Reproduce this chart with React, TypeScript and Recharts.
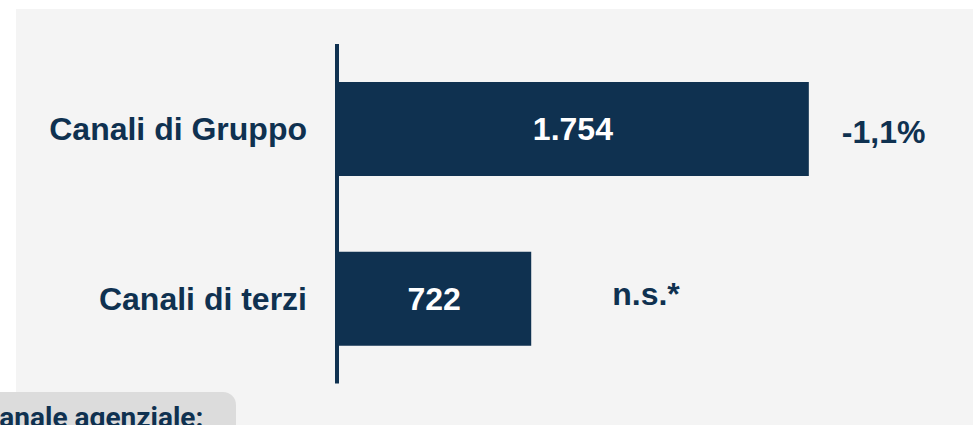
import React from "react";
import { Bar, BarChart, LabelList, XAxis, YAxis } from "recharts";

// Horizontal bars for the two distribution channels, with the year-on-year
// change written to the right of each bar.

const CATEGORIES = ["Canali di Gruppo", "Canali di terzi"];
const VALUES = [1754, 722];
const DELTAS = ["-1,1%", "n.s.*"];

const NAVY = "#0f3150";
const FONT = "'Liberation Sans', Arial, sans-serif";

// The change labels sit at slightly different places next to each bar.
const DELTA_DX = [33, 81];
const DELTA_DY = [3, -5.5];

const data = CATEGORIES.map((name, i) => ({
  name,
  value: VALUES[i],
  delta: DELTAS[i],
}));

const formatIt = (v: number) =>
  String(v).replace(/\B(?=(\d{3})+(?!\d))/g, ".");

function DeltaLabel(props: any) {
  const { x, y, width, height, value, index } = props;
  return (
    <text
      x={Number(x) + Number(width) + DELTA_DX[index]}
      y={Number(y) + Number(height) / 2 + DELTA_DY[index]}
      dy="0.355em"
      textAnchor="start"
      fill={NAVY}
      fontFamily={FONT}
      fontWeight="bold"
      fontSize={32}
    >
      {value}
    </text>
  );
}

export default function App() {
  return (
    <div
      style={{
        position: "absolute",
        left: 0,
        top: 0,
        width: 973,
        height: 425,
        overflow: "hidden",
        background: "#ffffff",
      }}
    >
      <div
        style={{
          position: "absolute",
          left: 16,
          top: 9,
          right: 0,
          bottom: 0,
          background: "#f4f4f4",
        }}
      />
      <div style={{ position: "absolute", left: 0, top: 0 }}>
        <BarChart
          width={973}
          height={425}
          layout="vertical"
          data={data}
          margin={{ top: 44, right: 98, bottom: 41.5, left: 0 }}
        >
          <XAxis type="number" domain={[0, 2000]} hide />
          <YAxis
            type="category"
            dataKey="name"
            width={337}
            axisLine={{ stroke: NAVY, strokeWidth: 4 }}
            tickLine={false}
            tickSize={0}
            tickMargin={30}
            tick={{
              fill: NAVY,
              fontSize: 32,
              fontWeight: "bold",
              fontFamily: FONT,
            }}
            interval={0}
          />
          <Bar dataKey="value" fill={NAVY} barSize={94} isAnimationActive={false}>
            <LabelList
              dataKey="value"
              position="center"
              formatter={(v: any) => formatIt(Number(v))}
              style={{
                fill: "#ffffff",
                fontSize: 32,
                fontWeight: "bold",
                fontFamily: FONT,
              }}
            />
            <LabelList dataKey="delta" content={<DeltaLabel />} />
          </Bar>
        </BarChart>
      </div>
      <div
        style={{
          position: "absolute",
          left: 0,
          top: 392,
          width: 236,
          height: 40,
          background: "#dcdcdc",
          borderTopRightRadius: 13,
          overflow: "hidden",
        }}
      >
        <div
          style={{
            position: "absolute",
            left: -19,
            top: 10,
            whiteSpace: "nowrap",
            fontFamily: "Roboto, sans-serif",
            fontWeight: "bold",
            fontSize: 28,
            lineHeight: "32px",
            color: NAVY,
          }}
        >
          Canale agenziale:
        </div>
      </div>
    </div>
  );
}
